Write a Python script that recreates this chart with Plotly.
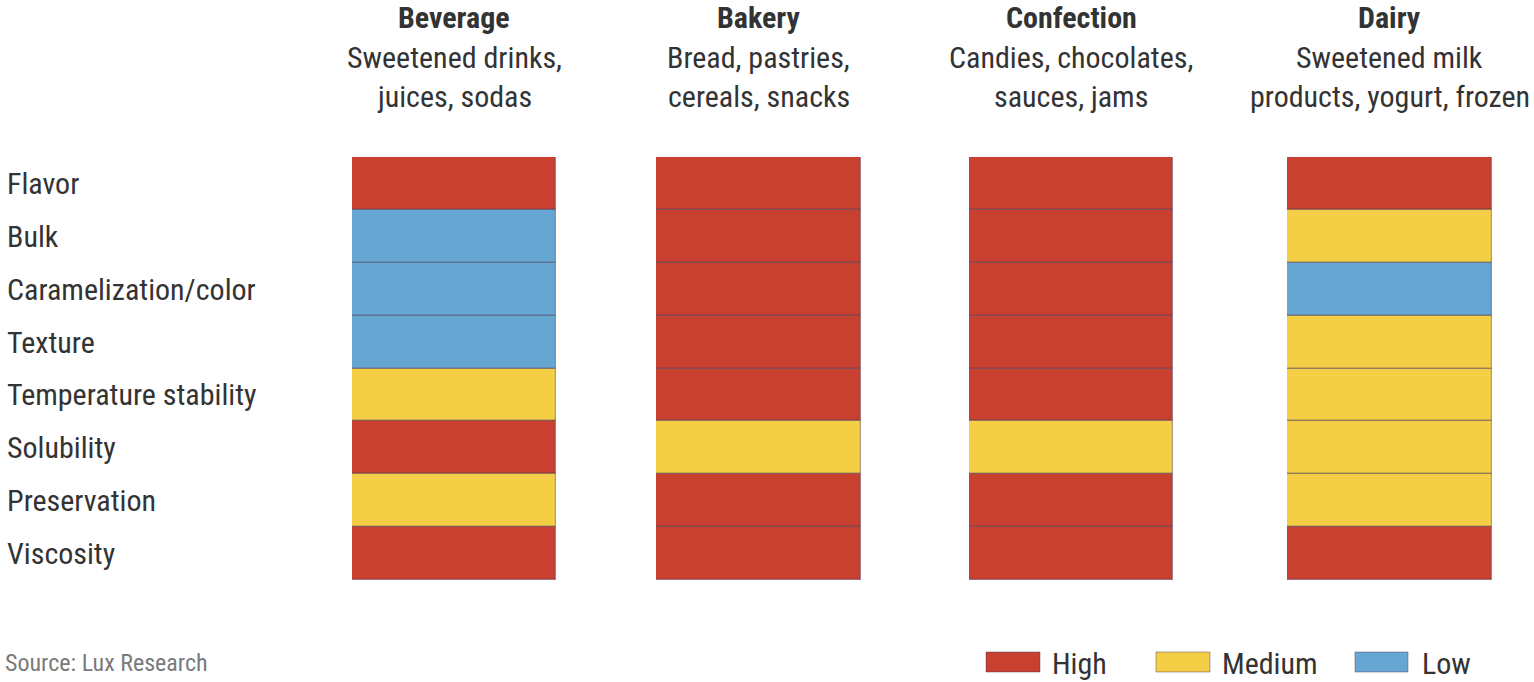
import plotly.graph_objects as go

# Sweetener functions and how much each food segment relies on them
categories = ["Beverage", "Bakery", "Confection", "Dairy"]
subtitles = [
    ["Sweetened drinks,", "juices, sodas"],
    ["Bread, pastries,", "cereals, snacks"],
    ["Candies, chocolates,", "sauces, jams"],
    ["Sweetened milk", "products, yogurt, frozen"],
]
functions = ["Flavor", "Bulk", "Caramelization/color", "Texture",
             "Temperature stability", "Solubility", "Preservation", "Viscosity"]

beverage = ["High", "Low", "Low", "Low", "Medium", "High", "Medium", "High"]
bakery = ["High", "High", "High", "High", "High", "Medium", "High", "High"]
confection = ["High", "High", "High", "High", "High", "Medium", "High", "High"]
dairy = ["High", "Medium", "Low", "Medium", "Medium", "Medium", "Medium", "High"]
importance = [beverage, bakery, confection, dairy]

levels = ["High", "Medium", "Low"]
level_colors = {"High": "#c8402f", "Medium": "#f4cf45", "Low": "#66a6d2"}

W, H = 1534, 682
FONT = "Roboto Condensed, Liberation Sans Narrow, sans-serif"
TEXT = "#333333"
EDGE = "rgba(70,60,90,0.45)"

# horizontal extent of each column in pixels -> paper domains
col_px = [(352, 556), (656, 861), (969, 1173), (1287, 1492)]
y_top, y_bot = 157, 580
ydom = [1 - y_bot / H, 1 - y_top / H]


def py(px):
    """Pixel row from the top -> paper y."""
    return 1 - px / H


fig = go.Figure()
layout = {}
for i, (cat, vals) in enumerate(zip(categories, importance)):
    ax = "" if i == 0 else str(i + 1)
    fig.add_trace(go.Bar(
        x=[cat] * len(functions),
        y=[1] * len(functions),
        base=list(range(len(functions))),
        width=1,
        marker=dict(color=[level_colors[v] for v in vals],
                    line=dict(color=EDGE, width=1.2)),
        xaxis="x" + ax, yaxis="y" + ax,
        hoverinfo="skip", showlegend=False,
    ))
    x0, x1 = col_px[i]
    layout["xaxis" + ax] = dict(domain=[x0 / W, x1 / W], range=[-0.5, 0.5],
                                visible=False, fixedrange=True)
    layout["yaxis" + ax] = dict(domain=ydom, range=[len(functions), 0],
                                visible=False, fixedrange=True,
                                anchor="x" + ax)
    # column headers
    cx = (x0 + x1) / 2 / W
    fig.add_annotation(text="<b>" + cat + "</b>", x=cx, y=py(18),
                       xref="paper", yref="paper", xanchor="center",
                       yanchor="middle", showarrow=False,
                       font=dict(size=30, family=FONT, color=TEXT))
    for j, line in enumerate(subtitles[i]):
        fig.add_annotation(text=line, x=cx, y=py(57 + 40 * j),
                           xref="paper", yref="paper", xanchor="center",
                           yanchor="middle", showarrow=False,
                           font=dict(size=30, family=FONT, color=TEXT))

# row labels
for k, name in enumerate(functions):
    fig.add_annotation(text=name, x=5 / W, y=k + 0.5, xref="paper", yref="y",
                       xanchor="left", yanchor="middle", showarrow=False,
                       font=dict(size=30, family=FONT, color=TEXT))

# legend
legend_px = [(986, 1040, 1050), (1156, 1210, 1220), (1355, 1408, 1420)]
for lvl, (s0, s1, tx) in zip(levels, legend_px):
    fig.add_shape(type="rect", xref="paper", yref="paper",
                  x0=s0 / W, x1=s1 / W, y0=py(672), y1=py(652),
                  fillcolor=level_colors[lvl], line=dict(color=EDGE, width=1))
    fig.add_annotation(text=lvl, x=tx / W, y=py(663), xref="paper",
                       yref="paper", xanchor="left", yanchor="middle",
                       showarrow=False,
                       font=dict(size=30, family=FONT, color=TEXT))

fig.add_annotation(text="Source: Lux Research", x=3 / W, y=py(663),
                   xref="paper", yref="paper", xanchor="left",
                   yanchor="middle", showarrow=False,
                   font=dict(size=24, family=FONT, color="#7a7a7a"))

fig.update_layout(
    width=W, height=H, margin=dict(l=0, r=0, t=0, b=0),
    paper_bgcolor="white", plot_bgcolor="white",
    barmode="overlay", bargap=0, **layout,
)
fig.write_html("out.html")
